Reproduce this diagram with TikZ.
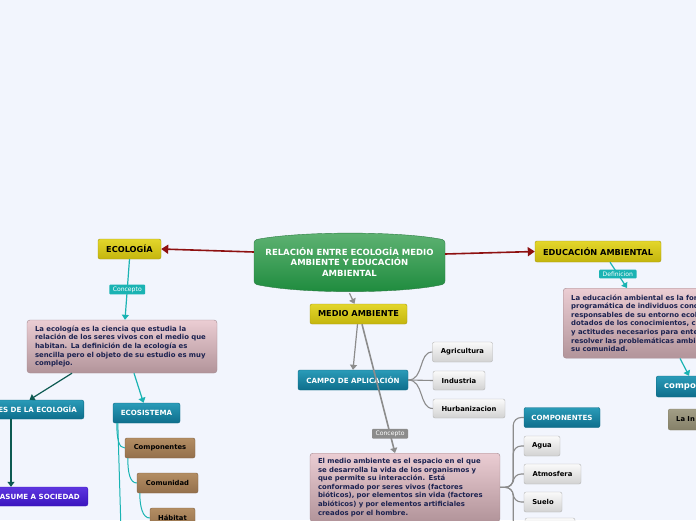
\documentclass[tikz,border=0pt]{standalone}
\usepackage{fontspec}
\setmainfont{DejaVu Sans}
\usetikzlibrary{arrows.meta}

\definecolor{bgcol}{HTML}{F2F5FD}
\definecolor{yeltop}{HTML}{E3D62B}
\definecolor{yelbot}{HTML}{C4B50D}
\definecolor{yelline}{HTML}{A89A10}
\definecolor{tealtop}{HTML}{2A9BB8}
\definecolor{tealbot}{HTML}{0E6E8C}
\definecolor{tealedge}{HTML}{0C6A85}
\definecolor{greytop}{HTML}{FAFAFA}
\definecolor{greybot}{HTML}{D2D2D2}
\definecolor{greyedge}{HTML}{B4B4B4}
\definecolor{browntop}{HTML}{B38D63}
\definecolor{brownbot}{HTML}{94704C}
\definecolor{brownedge}{HTML}{7F6040}
\definecolor{pinktop}{HTML}{EBCDD3}
\definecolor{pinkbot}{HTML}{B2949A}
\definecolor{pinkedge}{HTML}{A38A90}
\definecolor{purptop}{HTML}{5E36E0}
\definecolor{purpbot}{HTML}{3A14BE}
\definecolor{olivetop}{HTML}{A29E86}
\definecolor{olivebot}{HTML}{858068}
\definecolor{greentop}{HTML}{60B374}
\definecolor{greenbot}{HTML}{1C8A3C}
\definecolor{greenedge}{HTML}{2D7D44}
\definecolor{arrowred}{HTML}{8E1010}
\definecolor{cyanline}{HTML}{1AB3B3}
\definecolor{darkteal}{HTML}{0D5A52}
\definecolor{linegrey}{HTML}{8C8C8C}
\definecolor{navytext}{HTML}{1B2250}

\tikzset{
  topic/.style={rounded corners=2pt, top color=yeltop, bottom color=yelbot, draw=yelline,
    text=black, font=\fontsize{8.2}{10}\selectfont\bfseries, inner sep=0pt},
  subtopic/.style={rounded corners=2pt, top color=tealtop, bottom color=tealbot, draw=tealedge,
    text=white, font=\fontsize{7.1}{9}\selectfont\bfseries, inner sep=0pt},
  item/.style={rounded corners=2pt, top color=greytop, bottom color=greybot, draw=greyedge,
    text=black, font=\fontsize{6.8}{9}\selectfont\bfseries, inner sep=0pt},
  brownitem/.style={rounded corners=2pt, top color=browntop, bottom color=brownbot, draw=brownedge,
    text=black, font=\fontsize{6.8}{9}\selectfont\bfseries, inner sep=0pt},
  defbox/.style={rounded corners=3pt, top color=pinktop, bottom color=pinkbot, draw=pinkedge,
    text=navytext, font=\fontsize{6.9}{8.6}\selectfont\bfseries, align=left, inner xsep=8pt, inner ysep=5pt},
  tag/.style={rounded corners=1pt, text=white, font=\fontsize{6.1}{7}\selectfont,
    inner xsep=3.5pt, inner ysep=2pt},
  redarrow/.style={draw=arrowred, line width=1.6pt, -{Triangle[length=7pt,width=9pt]}},
  tealarrow/.style={draw=cyanline, line width=1.2pt, -{Triangle[length=5pt,width=7pt]}},
  darkarrow/.style={draw=darkteal, line width=1.2pt, -{Triangle[length=5pt,width=7pt]}},
  greyarrow/.style={draw=linegrey, line width=1.2pt, -{Triangle[length=5pt,width=7pt]}},
  greyline/.style={draw=linegrey, line width=1.1pt},
  tealline/.style={draw=cyanline, line width=1pt}
}

\begin{document}
\begin{tikzpicture}[x=1pt,y=-1pt]
\fill[bgcol] (0,0) rectangle (696,520);
\useasboundingbox (0,0) rectangle (696,520);
\clip (0,0) rectangle (696,520);

% central topic
\path[top color=greentop, bottom color=greenbot, draw=greenedge, rounded corners=3pt]
  (254,240) .. controls (300,231) and (400,231) .. (445,240) -- (445,284)
  .. controls (400,294) and (300,294) .. (254,284) -- cycle;
\node[text=white, font=\fontsize{8.5}{10.6}\selectfont\bfseries, align=center,
  minimum width=191, minimum height=52] (rel) at (349.5,262) {RELACIÓN ENTRE ECOLOGÍA MEDIO\\AMBIENTE Y EDUCACIÓN\\AMBIENTAL};

% main topics
\node[topic, minimum width=63, minimum height=20] (eco) at (129.5,249) {ECOLOGÍA};
\node[topic, minimum width=126, minimum height=21] (edu) at (598,251.5) {EDUCACIÓN AMBIENTAL};
\node[topic, minimum width=97, minimum height=20] (ma) at (358.5,314) {MEDIO AMBIENTE};

% ecologia side
\node[defbox, text width=174, minimum height=53] (ecodef) at (122,346.5) {La ecología es la ciencia que estudia la\\relación de los seres vivos con el medio que\\habitan. La definición de la ecología es\\sencilla pero el objeto de su estudio es muy\\complejo.};
\node[subtopic, anchor=east, inner xsep=7pt, minimum height=19] (prin) at (84,409.5) {ES DE LA ECOLOGÍA};
\node[subtopic, anchor=east, inner xsep=8pt, minimum height=19, top color=purptop, bottom color=purpbot, draw=purpbot] (asu) at (88,496.5) {ASUME A SOCIEDAD};
\node[subtopic, minimum width=67, minimum height=20] (es) at (146.5,413) {ECOSISTEMA};
\node[brownitem, minimum width=70, minimum height=20] (ecomp) at (160,448) {Componentes};
\node[brownitem, minimum width=61, minimum height=20] (ecomu) at (167.5,483) {Comunidad};
\node[brownitem, minimum width=45, minimum height=20] (hab) at (172.5,518) {Hábitat};
\coordinate (ecoend) at (121,530);

% medio ambiente side
\node[subtopic, minimum width=110, minimum height=20] (campo) at (353,380) {CAMPO DE APLICACIÓN};
\node[item, minimum width=60, minimum height=20] (agr) at (462.5,352) {Agricultura};
\node[item, minimum width=52, minimum height=19] (ind) at (459,380.5) {Industria};
\node[item, minimum width=72, minimum height=19] (hur) at (469,408.5) {Hurbanizacion};
\node[defbox, anchor=north, text width=174] (mdef) at (405,453) {El medio ambiente es el espacio en el que\\se desarrolla la vida de los organismos y\\que permite su interacción. Está\\conformado por seres vivos (factores\\bióticos), por elementos sin vida (factores\\abióticos) y por elementos artificiales\\creados por el hombre.};
\node[subtopic, minimum width=76, minimum height=20] (mc) at (562,417.5) {COMPONENTES};
\node[item, minimum width=36, minimum height=20] (agua) at (542,446) {Agua};
\node[item, minimum width=57, minimum height=20] (atm) at (552.5,474) {Atmosfera};
\node[item, minimum width=38, minimum height=20] (sue) at (543,502) {Suelo};
\node[item, minimum width=50, minimum height=20] (mas) at (550,528) {};

% educacion side
\node[defbox, anchor=north west, text width=180, minimum height=70] (edef) at (563,288) {La educación ambiental es la for\\programática de individuos conc\\responsables de su entorno ecol\\dotados de los conocimientos, c\\y actitudes necesarios para ente\\resolver las problemáticas ambi\\su comunidad.};
\node[subtopic, anchor=west, inner xsep=8pt, minimum height=21, font=\fontsize{8.5}{10}\selectfont\bfseries] (comp) at (656,386.5) {compon};
\node[brownitem, anchor=west, inner xsep=8pt, minimum height=21, top color=olivetop, bottom color=olivebot, draw=olivebot] (lain) at (668,419.5) {La In};

% connectors
\draw[redarrow] ([yshift=10pt]rel.west) -- (eco.east);
\draw[redarrow] ([yshift=8pt]rel.east) -- (edu.west);
\draw[greyarrow] ([yshift=-5pt]rel.south) -- ([xshift=-4pt]ma.north);

\draw[tealarrow] (eco.south) -- node[tag, fill=cyanline, pos=0.5] (c1) {Concepto} ([xshift=3pt]ecodef.north);
\draw[darkarrow] ([xshift=-50pt]ecodef.south) -- ([xshift=-8pt]prin.north);
\draw[darkarrow] (11,0 |- prin.south) -- (11,0 |- asu.north);
\draw[tealarrow] ([xshift=12pt]ecodef.south) -- ([xshift=-3pt]es.north);
\draw[tealline] ([xshift=4pt]es.south west) .. controls +(0,16) and +(-6,0) .. (ecomp.west);
\draw[tealline] ([xshift=3pt]ecomp.south west) .. controls +(0,14) and +(-7,0) .. (ecomu.west);
\draw[tealline] ([xshift=3pt]ecomu.south west) .. controls +(0,14) and +(-7,0) .. (hab.west);
\draw[tealline] ([xshift=5pt]es.south west) -- (ecoend);

\draw[greyarrow] ([xshift=-1pt]ma.south) -- (campo.north);
\draw[greyarrow, line width=1.6pt] ([xshift=3.5pt]ma.south) -- node[tag, fill=linegrey, pos=0.85] (c2) {Concepto} ([xshift=-10pt]mdef.north);
\draw[greyline] (campo.east) .. controls +(16,0) and +(-14,0) .. (agr.west);
\draw[greyline] (campo.east) -- (ind.west);
\draw[greyline] (campo.east) .. controls +(16,0) and +(-14,0) .. (hur.west);
\draw[greyline, rounded corners=8pt] (mdef.east) -- ++(13,0) |- (mc.west);
\draw[greyline, rounded corners=8pt] (mdef.east) -- ++(13,0) |- (agua.west);
\draw[greyline, rounded corners=8pt] (mdef.east) -- ++(13,0) |- (atm.west);
\draw[greyline, rounded corners=8pt] (mdef.east) -- ++(13,0) |- (sue.west);
\draw[greyline, rounded corners=8pt] (mdef.east) -- ++(13,0) |- (mas.west);

\draw[tealarrow] ([xshift=12pt]edu.south) -- node[tag, fill=cyanline, pos=0.46] (c3) {Definicion} ([xshift=64pt]edef.north west);
\draw[tealarrow] ([xshift=117pt]edef.south west) -- ([xshift=6pt]comp.north);
\end{tikzpicture}
\end{document}
